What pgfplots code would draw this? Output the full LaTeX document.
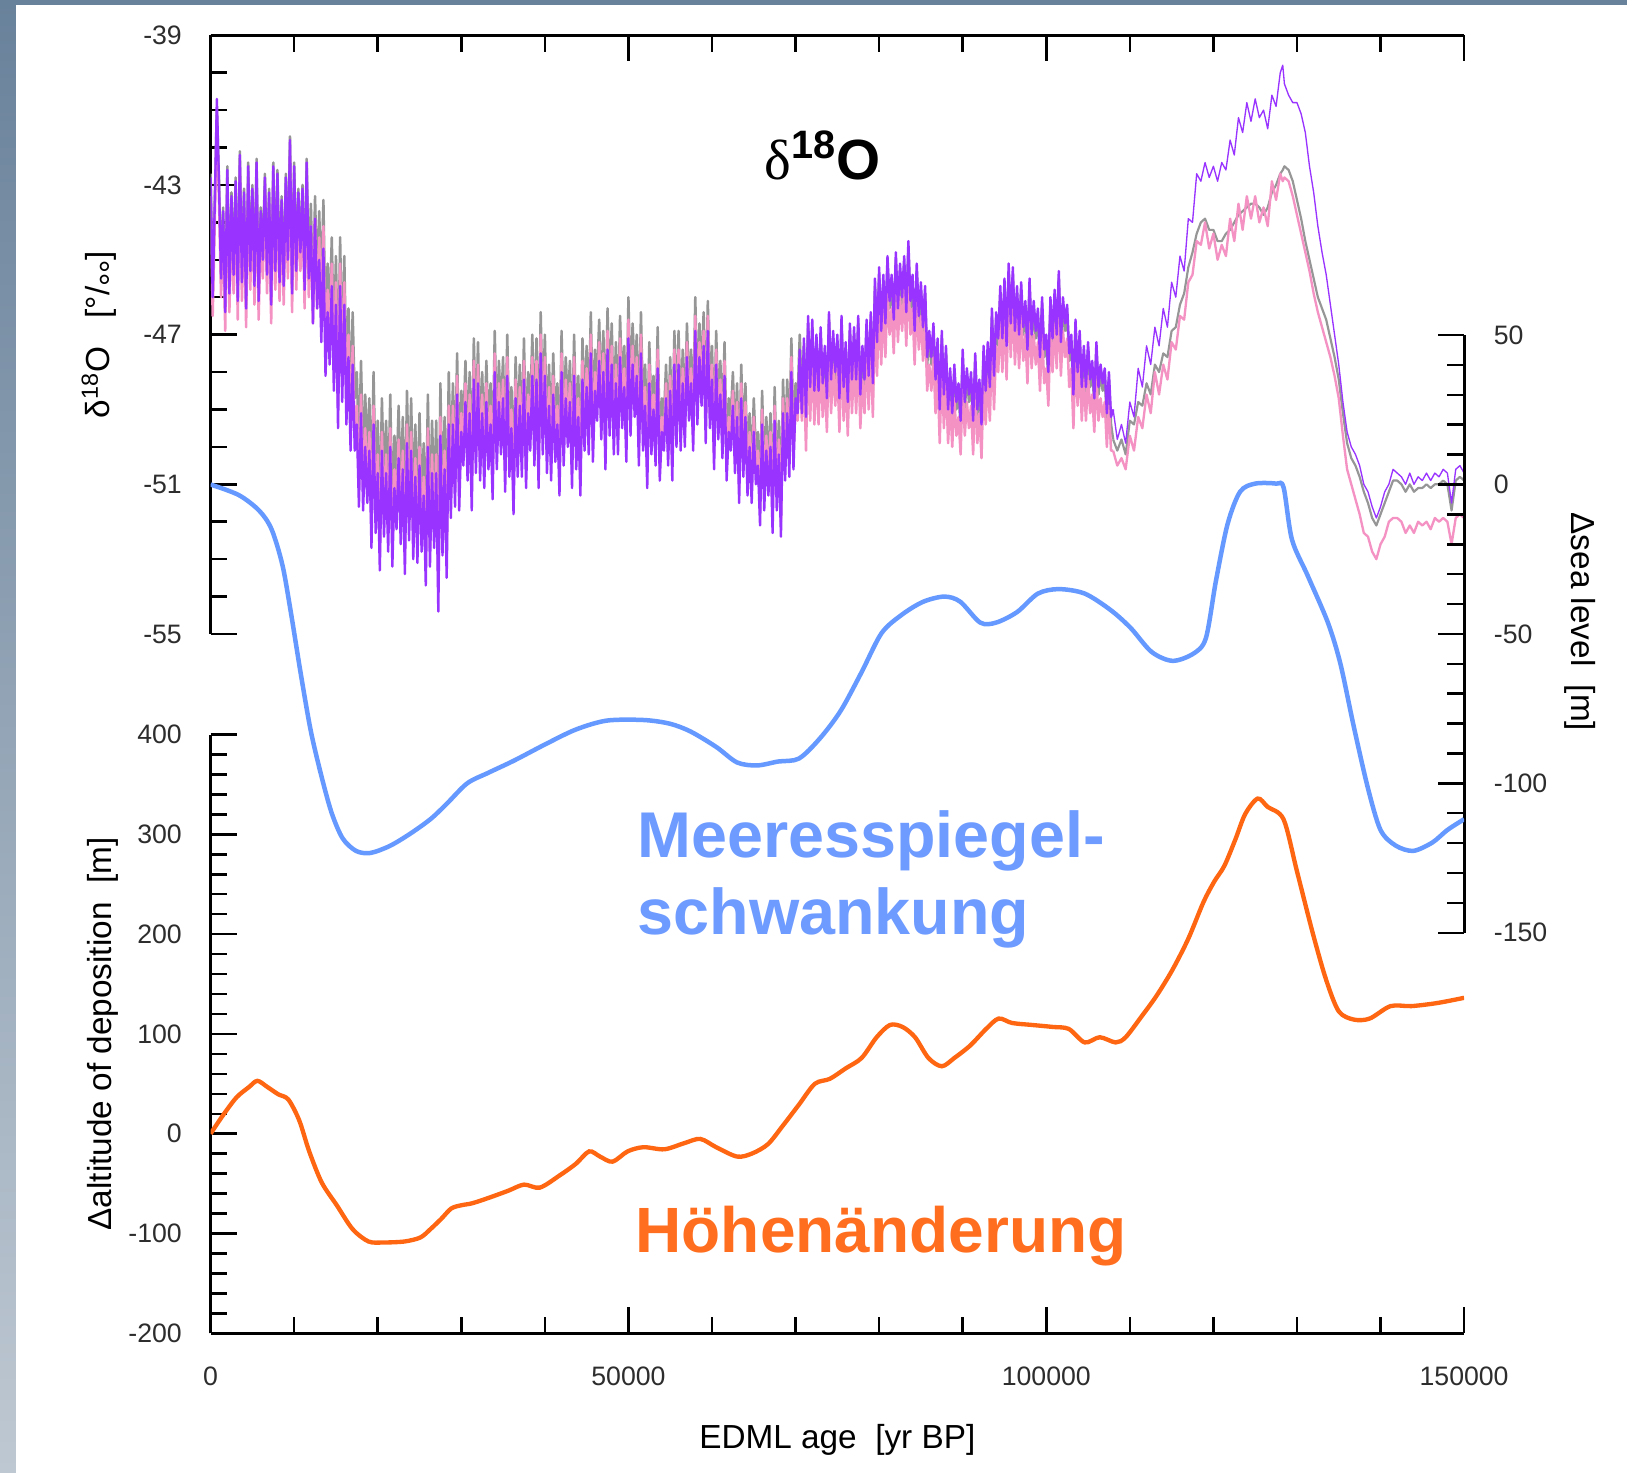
\documentclass[border=0pt]{standalone}
\usepackage{fontspec}
\setmainfont{Liberation Sans}
\newfontfamily\seriffont{Liberation Serif}
\usepackage{pgfplots}
\pgfplotsset{compat=1.18}
\usepackage{pgfplotstable}
\definecolor{cpu}{RGB}{153,51,255}
\definecolor{cgr}{RGB}{150,150,150}
\definecolor{cpk}{RGB}{244,146,196}
\definecolor{cbl}{RGB}{102,153,255}
\definecolor{cor}{RGB}{255,102,17}
\definecolor{blLab}{RGB}{110,155,255}
\definecolor{orLab}{RGB}{255,110,30}
\definecolor{ctick}{RGB}{45,45,45}
\definecolor{bgTop}{RGB}{105,130,155}
\definecolor{bgBot}{RGB}{190,200,210}

\pgfplotstableread{
t pu gr pk
0 -42.8 -42.7 -43.3
250 -46.0 -45.9 -46.5
500 -43.5 -43.4 -44.0
750 -40.7 -41.0 -41.3
1000 -42.9 -42.8 -43.4
1250 -45.5 -45.4 -46.0
1500 -43.7 -43.6 -44.2
1750 -46.4 -46.3 -46.9
2000 -42.6 -42.5 -43.1
2250 -45.9 -45.8 -46.4
2500 -43.3 -43.2 -43.8
2750 -45.4 -45.3 -45.9
3000 -42.9 -42.8 -43.4
3250 -46.1 -46.0 -46.6
3500 -42.2 -42.1 -42.7
3750 -45.6 -45.5 -46.1
4000 -43.2 -43.1 -43.7
4250 -46.3 -46.2 -46.8
4500 -42.5 -42.4 -43.0
4750 -45.3 -45.2 -45.8
5000 -43.1 -43.0 -43.6
5250 -45.7 -45.6 -46.2
5500 -42.4 -42.3 -42.9
5750 -46.1 -46.0 -46.6
6000 -43.7 -43.6 -44.2
6250 -45.0 -44.9 -45.5
6500 -42.8 -42.7 -43.3
6750 -45.4 -45.3 -45.9
7000 -43.2 -43.1 -43.7
7250 -46.2 -46.1 -46.7
7500 -42.5 -42.4 -43.0
7750 -45.3 -45.2 -45.8
8000 -42.7 -42.6 -43.2
8250 -45.6 -45.5 -46.1
8500 -43.4 -43.3 -43.9
8750 -45.7 -45.6 -46.2
9000 -42.8 -42.7 -43.3
9250 -45.0 -44.9 -45.5
9500 -41.8 -41.7 -42.3
9750 -45.9 -45.8 -46.4
10000 -42.5 -42.4 -43.0
10250 -45.3 -45.2 -45.8
10500 -43.2 -43.1 -43.7
10750 -44.8 -44.7 -45.3
11000 -43.1 -43.0 -43.6
11250 -45.8 -45.7 -46.3
11500 -42.4 -42.3 -42.9
11750 -45.5 -45.4 -46.0
12000 -44.1 -43.5 -44.1
12250 -46.7 -46.1 -46.7
12500 -43.9 -43.3 -43.9
12750 -46.3 -45.7 -46.3
13000 -45.0 -43.7 -44.4
13250 -47.2 -45.9 -46.6
13500 -44.7 -43.4 -44.1
13750 -48.1 -46.8 -47.5
14000 -46.4 -45.1 -45.8
14250 -47.8 -46.5 -47.2
14500 -45.7 -44.4 -45.1
14750 -48.5 -47.2 -47.9
15000 -46.2 -44.9 -45.6
15250 -49.5 -48.2 -48.9
15500 -45.7 -44.4 -45.1
15750 -48.8 -47.5 -48.2
16000 -46.2 -44.9 -45.6
16250 -49.4 -48.1 -48.8
16500 -47.6 -46.3 -47.0
16750 -50.1 -48.8 -49.5
17000 -47.8 -46.4 -47.3
17250 -50.1 -48.7 -49.6
17500 -49.4 -48.0 -48.9
17750 -51.6 -50.2 -51.1
18000 -49.1 -47.7 -48.6
18250 -51.7 -50.3 -51.2
18500 -50.0 -48.6 -49.5
18750 -51.5 -50.1 -51.0
19000 -50.1 -48.7 -49.6
19250 -52.7 -51.3 -52.2
19500 -49.4 -48.0 -48.9
19750 -52.3 -50.9 -51.8
20000 -50.7 -49.3 -50.2
20250 -53.3 -51.9 -52.8
20500 -50.1 -48.7 -49.6
20750 -52.4 -51.0 -51.9
21000 -50.7 -49.3 -50.2
21250 -52.8 -51.4 -52.3
21500 -50.0 -48.6 -49.5
21750 -53.2 -51.8 -52.7
22000 -51.1 -49.7 -50.6
22250 -52.2 -50.8 -51.7
22500 -50.3 -48.9 -49.8
22750 -52.6 -51.2 -52.1
23000 -50.6 -49.2 -50.1
23250 -53.4 -52.0 -52.9
23500 -49.9 -48.5 -49.4
23750 -52.5 -51.1 -52.0
24000 -50.1 -48.7 -49.6
24250 -53.0 -51.6 -52.5
24500 -50.8 -49.4 -50.3
24750 -53.1 -51.7 -52.6
25000 -50.5 -49.1 -50.0
25250 -52.8 -51.4 -52.3
25500 -51.3 -49.9 -50.8
25750 -53.7 -52.3 -53.2
26000 -50.0 -48.6 -49.5
26250 -53.2 -51.8 -52.7
26500 -50.7 -49.3 -50.2
26750 -52.7 -51.3 -52.2
27000 -50.7 -49.3 -50.2
27250 -54.4 -53.0 -53.9
27500 -49.7 -48.3 -49.2
27750 -52.9 -51.5 -52.4
28000 -50.6 -49.2 -50.1
28250 -53.5 -52.1 -53.0
28500 -49.4 -48.0 -48.9
28750 -51.9 -50.5 -51.4
29000 -49.4 -48.3 -48.9
29250 -51.6 -50.5 -51.1
29500 -48.6 -47.5 -48.1
29750 -51.7 -50.6 -51.2
30000 -49.6 -48.5 -49.1
30250 -50.5 -49.4 -50.0
30500 -48.8 -47.7 -48.3
30750 -50.9 -49.8 -50.4
31000 -49.1 -48.0 -48.6
31250 -51.7 -50.6 -51.2
31500 -48.2 -47.1 -47.7
31750 -50.7 -49.6 -50.2
32000 -48.3 -47.2 -47.8
32250 -50.9 -49.8 -50.4
32500 -49.1 -48.0 -48.6
32750 -51.1 -50.0 -50.6
33000 -48.8 -47.7 -48.3
33250 -50.6 -49.5 -50.1
33500 -49.4 -48.3 -48.9
33750 -51.4 -50.3 -50.9
34000 -48.0 -46.9 -47.5
34250 -50.6 -49.5 -50.1
34500 -48.8 -47.7 -48.3
34750 -50.2 -49.1 -49.7
35000 -48.7 -47.6 -48.2
35250 -51.2 -50.1 -50.7
35500 -48.1 -47.0 -47.6
35750 -50.8 -49.7 -50.3
36000 -49.5 -48.4 -49.0
36250 -51.8 -50.7 -51.3
36500 -48.7 -47.6 -48.2
36750 -50.8 -49.7 -50.3
37000 -48.9 -47.8 -48.4
37250 -50.8 -49.7 -50.3
37500 -48.2 -47.1 -47.7
37750 -51.1 -50.0 -50.6
38000 -49.1 -48.0 -48.6
38250 -50.1 -49.0 -49.6
38500 -48.1 -47.0 -47.6
38750 -50.5 -49.4 -50.0
39000 -48.2 -47.1 -47.7
39250 -51.1 -50.0 -50.6
39500 -47.5 -46.4 -47.0
39750 -50.2 -49.1 -49.7
40000 -48.1 -47.0 -47.6
40250 -50.7 -49.6 -50.2
40500 -48.9 -47.8 -48.4
40750 -50.9 -49.8 -50.4
41000 -48.6 -47.5 -48.1
41250 -50.4 -49.3 -49.9
41500 -49.4 -48.3 -48.9
41750 -51.3 -50.2 -50.8
42000 -48.0 -46.9 -47.5
42250 -50.5 -49.4 -50.0
42500 -48.7 -47.6 -48.2
42750 -50.0 -48.9 -49.5
43000 -48.8 -47.7 -48.3
43250 -51.1 -50.0 -50.6
43500 -48.1 -47.0 -47.6
43750 -50.6 -49.5 -50.1
44000 -49.2 -48.1 -48.7
44250 -51.3 -50.2 -50.8
44500 -48.2 -47.1 -47.7
44750 -50.1 -49.0 -49.6
45000 -48.4 -47.3 -47.9
45250 -50.2 -49.1 -49.7
45500 -47.5 -46.4 -47.0
45750 -50.4 -49.3 -49.9
46000 -48.5 -47.4 -48.0
46250 -49.3 -48.2 -48.8
46500 -47.7 -46.6 -47.2
46750 -49.8 -48.7 -49.3
47000 -48.0 -46.9 -47.5
47250 -50.6 -49.5 -50.1
47500 -47.4 -46.3 -46.9
47750 -49.7 -48.6 -49.2
48000 -47.8 -46.7 -47.3
48250 -50.2 -49.1 -49.7
48500 -48.3 -47.2 -47.8
48750 -50.2 -49.1 -49.7
49000 -47.6 -46.5 -47.1
49250 -49.5 -48.4 -49.0
49500 -48.4 -47.3 -47.9
49750 -50.4 -49.3 -49.9
50000 -47.1 -46.0 -46.6
50250 -49.7 -48.6 -49.2
50500 -47.8 -46.7 -47.3
50750 -49.2 -48.1 -48.7
51000 -48.1 -47.0 -47.6
51250 -50.5 -49.4 -50.0
51500 -47.5 -46.4 -47.0
51750 -50.1 -49.0 -49.6
52000 -48.9 -47.8 -48.4
52250 -51.1 -50.0 -50.6
52500 -48.3 -47.2 -47.8
52750 -50.2 -49.1 -49.7
53000 -49.0 -48.1 -48.6
53250 -50.5 -49.6 -50.1
53500 -47.9 -46.8 -47.4
53750 -50.9 -50.0 -50.5
54000 -49.6 -48.7 -49.2
54250 -50.1 -49.2 -49.7
54500 -48.7 -47.8 -48.3
54750 -50.5 -49.6 -50.1
55000 -48.5 -47.6 -48.1
55250 -50.9 -50.0 -50.5
55500 -47.8 -46.9 -47.4
55750 -50.0 -49.1 -49.6
56000 -47.8 -46.9 -47.4
56250 -50.1 -49.2 -49.7
56500 -48.3 -47.4 -47.9
56750 -50.0 -49.1 -49.6
57000 -47.6 -46.7 -47.2
57250 -49.3 -48.4 -48.9
57500 -48.3 -47.4 -47.9
57750 -50.1 -49.2 -49.7
58000 -46.9 -46.0 -46.5
58250 -49.4 -48.5 -49.0
58500 -47.6 -46.7 -47.2
58750 -48.9 -48.0 -48.5
59000 -47.3 -46.4 -46.9
59250 -49.9 -49.0 -49.5
59500 -46.9 -46.1 -46.5
59750 -49.5 -48.6 -49.1
60000 -48.2 -47.3 -47.8
60250 -50.6 -49.7 -50.2
60500 -47.8 -46.9 -47.4
60750 -49.8 -48.9 -49.4
61000 -48.6 -47.7 -48.2
61250 -50.3 -49.4 -49.9
61500 -48.1 -47.2 -47.7
61750 -50.9 -50.0 -50.5
62000 -49.6 -48.7 -49.2
62250 -50.1 -49.2 -49.7
62500 -48.9 -48.0 -48.5
62750 -50.7 -49.8 -50.3
63000 -49.2 -48.3 -48.8
63250 -51.5 -50.6 -51.1
63500 -48.7 -47.8 -48.3
63750 -50.8 -49.9 -50.4
64000 -49.2 -48.3 -48.8
64250 -51.3 -50.4 -50.9
64500 -50.0 -49.1 -49.6
64750 -51.5 -50.6 -51.1
65000 -49.6 -48.7 -49.2
65250 -51.0 -50.1 -50.6
65500 -50.5 -49.6 -50.1
65750 -52.1 -51.2 -51.7
66000 -49.4 -48.5 -49.0
66250 -51.7 -50.8 -51.3
66500 -50.1 -49.2 -49.7
66750 -51.3 -50.4 -50.9
67000 -50.0 -49.1 -49.6
67250 -52.3 -51.4 -51.9
67500 -49.3 -48.4 -48.9
67750 -51.7 -50.8 -51.3
68000 -50.2 -49.3 -49.8
68250 -52.4 -51.5 -52.0
68500 -49.1 -48.2 -48.7
68750 -50.9 -50.0 -50.5
69000 -49.1 -48.2 -48.7
69250 -50.8 -49.9 -50.4
69500 -48.0 -47.1 -47.6
69750 -50.6 -49.7 -50.2
70000 -48.7 -48.3 -48.9
70250 -49.1 -48.7 -49.3
70500 -47.4 -47.0 -47.6
70750 -49.1 -48.7 -49.3
71000 -47.1 -47.3 -48.0
71250 -49.2 -49.4 -50.1
71500 -46.5 -46.7 -47.4
71750 -48.4 -48.6 -49.3
72000 -46.6 -46.8 -47.5
72250 -48.5 -48.7 -49.4
72500 -47.0 -47.2 -47.9
72750 -48.5 -48.7 -49.4
73000 -46.8 -47.0 -47.7
73250 -48.3 -48.5 -49.2
73500 -47.3 -47.5 -48.2
73750 -48.7 -48.9 -49.6
74000 -46.4 -46.6 -47.3
74250 -48.2 -48.4 -49.1
74500 -46.9 -47.1 -47.8
74750 -48.0 -48.2 -48.9
75000 -47.0 -47.2 -47.9
75250 -48.7 -48.9 -49.6
75500 -46.5 -46.7 -47.4
75750 -48.4 -48.6 -49.3
76000 -47.2 -47.4 -48.1
76250 -48.8 -49.0 -49.7
76500 -46.7 -46.9 -47.6
76750 -48.2 -48.4 -49.1
77000 -46.8 -47.0 -47.7
77250 -48.2 -48.4 -49.1
77500 -46.5 -46.7 -47.4
77750 -48.6 -48.8 -49.5
78000 -47.3 -47.5 -48.2
78250 -48.2 -48.4 -49.1
78500 -46.6 -46.8 -47.5
78750 -48.1 -48.3 -49.0
79000 -46.4 -46.6 -47.3
79250 -48.3 -48.5 -49.2
79500 -45.5 -45.7 -46.4
79750 -47.2 -47.4 -48.1
80000 -45.2 -45.4 -46.1
80250 -46.9 -47.1 -47.8
80500 -45.4 -45.6 -46.3
80750 -46.7 -46.9 -47.6
81000 -44.9 -45.1 -45.8
81250 -46.1 -46.3 -47.0
81500 -45.4 -45.6 -46.3
81750 -46.6 -46.8 -47.5
82000 -44.8 -45.0 -45.7
82250 -46.3 -46.5 -47.2
82500 -45.1 -45.3 -46.0
82750 -46.0 -46.2 -46.9
83000 -44.9 -45.1 -45.8
83250 -46.4 -46.6 -47.3
83500 -44.5 -44.7 -45.4
83750 -46.1 -46.3 -47.0
84000 -45.4 -45.6 -46.3
84250 -46.9 -47.1 -47.8
84500 -45.1 -45.3 -46.0
84750 -46.5 -46.7 -47.4
85000 -45.6 -45.8 -46.5
85250 -46.8 -47.0 -47.7
85500 -45.7 -45.9 -46.6
85750 -47.6 -47.8 -48.5
86000 -46.9 -47.1 -47.8
86250 -47.6 -47.8 -48.5
86500 -46.7 -46.9 -47.6
86750 -48.2 -48.4 -49.1
87000 -47.1 -47.3 -48.0
87250 -49.0 -49.2 -49.9
87500 -46.9 -47.1 -47.8
87750 -48.6 -48.8 -49.5
88000 -47.3 -47.5 -48.2
88250 -49.0 -49.2 -49.9
88500 -47.9 -48.1 -48.8
88750 -49.1 -49.3 -50.0
89000 -47.8 -48.0 -48.7
89250 -48.8 -49.0 -49.7
89500 -48.3 -48.5 -49.2
89750 -49.3 -49.5 -50.2
90000 -47.4 -47.6 -48.3
90250 -48.8 -49.0 -49.7
90500 -47.9 -48.1 -48.8
90750 -48.6 -48.8 -49.5
91000 -48.0 -48.2 -48.9
91250 -49.3 -49.5 -50.2
91500 -47.5 -47.7 -48.4
91750 -49.0 -49.2 -49.9
92000 -48.2 -48.4 -49.1
92250 -49.4 -49.6 -50.3
92500 -47.3 -47.5 -48.2
92750 -48.5 -48.7 -49.4
93000 -47.2 -47.4 -48.1
93250 -48.4 -48.6 -49.3
93500 -46.3 -46.5 -47.2
93750 -48.1 -48.3 -49.0
94000 -46.4 -46.6 -47.3
94250 -47.1 -47.3 -48.0
94500 -45.7 -45.9 -46.6
94750 -47.1 -47.3 -48.0
95000 -45.5 -45.7 -46.4
95250 -47.3 -47.5 -48.2
95500 -45.1 -45.3 -46.0
95750 -46.7 -46.9 -47.6
96000 -45.2 -45.4 -46.1
96250 -46.9 -47.1 -47.8
96500 -45.7 -45.9 -46.6
96750 -47.0 -47.2 -47.9
97000 -45.6 -45.8 -46.5
97250 -46.8 -47.0 -47.7
97500 -46.1 -46.3 -47.0
97750 -47.4 -47.6 -48.3
98000 -45.5 -45.7 -46.4
98250 -47.0 -47.2 -47.9
98500 -46.1 -46.3 -47.0
98750 -46.9 -47.1 -47.8
99000 -46.3 -46.5 -47.2
99250 -47.6 -47.8 -48.5
99500 -46.0 -46.2 -46.9
99750 -47.4 -47.6 -48.3
100000 -47.0 -47.2 -47.9
100250 -48.0 -48.2 -48.9
100500 -46.0 -46.2 -46.9
100750 -47.1 -47.3 -48.0
101000 -45.8 -46.0 -46.7
101250 -47.0 -47.2 -47.9
101500 -45.3 -45.5 -46.2
101750 -47.2 -47.4 -48.1
102000 -46.0 -46.2 -46.9
102250 -46.7 -46.9 -47.6
102500 -46.2 -46.4 -47.1
102750 -47.5 -47.7 -48.4
103000 -47.0 -47.2 -47.9
103250 -48.6 -48.8 -49.5
103500 -46.6 -46.8 -47.5
103750 -48.0 -48.2 -48.9
104000 -46.9 -47.1 -47.8
104250 -48.4 -48.6 -49.3
104500 -47.3 -47.5 -48.2
104750 -48.4 -48.6 -49.3
105000 -47.2 -47.4 -48.1
105250 -48.2 -48.4 -49.1
105500 -47.7 -47.9 -48.6
105750 -48.7 -48.9 -49.6
106000 -47.2 -47.4 -48.1
106250 -48.4 -48.6 -49.3
106500 -47.8 -48.0 -48.7
106750 -48.3 -48.5 -49.2
107000 -47.9 -48.1 -48.8
107250 -49.1 -49.3 -50.0
107500 -48.0 -48.2 -48.9
107750 -49.2 -49.4 -50.1
108000 -49.0 -49.8 -50.1
108500 -49.8 -50.1 -50.5
109000 -49.4 -49.8 -50.3
109500 -49.9 -50.2 -50.6
110000 -48.8 -49.3 -49.7
110500 -49.2 -49.4 -50.1
111000 -47.9 -48.8 -49.2
111500 -48.4 -48.9 -49.5
112000 -47.3 -48.3 -48.6
112500 -47.8 -48.6 -49.1
113000 -46.8 -47.8 -48.0
113500 -47.3 -48.0 -48.6
114000 -46.3 -47.5 -47.8
114500 -46.8 -47.6 -48.2
115000 -45.6 -46.9 -47.2
115500 -46.0 -46.8 -47.4
116000 -44.9 -46.2 -46.5
116500 -45.3 -45.9 -46.6
117000 -43.9 -45.2 -45.6
117500 -44.0 -44.8 -45.4
118000 -42.7 -44.3 -44.5
118500 -42.9 -44.0 -44.6
119000 -42.4 -43.9 -44.0
119500 -42.8 -44.2 -44.7
120000 -42.5 -44.2 -44.3
120500 -42.9 -44.5 -45.0
121000 -42.4 -44.5 -44.6
121500 -42.6 -44.3 -44.9
122000 -41.8 -44.2 -43.9
122500 -42.2 -44.0 -44.5
123000 -41.2 -43.8 -43.5
123500 -41.6 -43.7 -44.2
124000 -40.8 -43.6 -43.3
124500 -41.3 -43.5 -43.9
125000 -40.7 -43.5 -43.3
125500 -41.2 -43.6 -44.0
126000 -41.0 -43.8 -43.6
126500 -41.5 -43.6 -44.1
127000 -40.6 -43.2 -42.9
127500 -40.9 -43.0 -43.4
128000 -40.0 -42.7 -42.7
128300 -39.8 -42.6 -42.9
128500 -40.3 -42.5 -42.8
129000 -40.6 -42.6 -42.9
129500 -40.8 -42.9 -43.3
130000 -40.8 -43.4 -43.8
130500 -41.1 -43.9 -44.3
131000 -41.6 -44.5 -44.8
131500 -42.5 -45.0 -45.3
132000 -43.2 -45.5 -45.9
132500 -44.1 -46.0 -46.4
133000 -44.8 -46.3 -46.8
133500 -45.4 -46.6 -47.2
134000 -46.2 -47.1 -47.6
134500 -47.0 -47.6 -48.1
135000 -47.8 -48.2 -48.7
135500 -48.8 -49.1 -49.7
136000 -49.6 -49.9 -50.6
136500 -50.0 -50.3 -51.0
137000 -50.2 -50.5 -51.4
137500 -50.5 -50.8 -51.8
138000 -51.0 -51.2 -52.3
138500 -51.2 -51.5 -52.4
139000 -51.6 -51.9 -52.8
139500 -51.9 -52.1 -53.0
140000 -51.6 -51.8 -52.6
140500 -51.2 -51.5 -52.4
141000 -51.0 -51.2 -52.0
141500 -50.6 -50.9 -51.9
142000 -50.7 -50.9 -51.9
142500 -50.8 -51.0 -52.0
143000 -51.0 -51.2 -52.3
143500 -50.7 -51.0 -52.1
144000 -51.0 -51.2 -52.3
144500 -50.8 -51.1 -52.0
145000 -50.9 -51.1 -52.1
145500 -50.7 -51.0 -52.0
146000 -50.9 -51.1 -52.2
146500 -50.7 -51.0 -51.9
147000 -50.8 -51.0 -52.0
147500 -50.6 -50.9 -51.9
148000 -50.7 -51.0 -52.0
148500 -51.5 -51.7 -52.6
149000 -50.6 -50.9 -51.9
149500 -50.5 -50.8 -51.8
150000 -50.7 -50.9 -51.9
}\dO

\pgfplotstableread{
t s
0 0
3350 -3.5
5800 -8.7
7300 -15
8600 -27
9600 -42.7
10800 -63.5
12000 -82.6
13300 -98
14500 -110
15800 -118.4
17400 -122.6
19100 -123.3
21400 -121
23800 -117
26300 -112
28200 -107
30700 -100
33200 -96.5
36300 -92.4
40000 -87
43700 -82
47400 -79
51800 -78.8
54900 -80
57400 -82.6
60500 -87.8
63000 -93
65400 -94
67900 -92.7
70400 -91.7
72900 -85
75400 -75.7
77900 -62.8
80300 -49.7
82800 -43.4
85300 -39.2
87800 -37.5
89700 -39.2
92100 -46.2
94000 -46.2
96500 -42.7
99000 -36.5
101500 -35
104600 -36.5
107700 -42
110100 -48
112600 -56
115100 -59
117600 -56.6
119100 -51.4
120300 -32.3
121700 -13.2
123200 -2.4
125000 0.3
127500 0.3
128400 -1
129400 -18.4
131300 -30.6
133700 -46.2
135200 -60
136800 -81
138500 -101.7
140000 -115.6
141800 -120.8
143900 -122.6
146200 -119.8
148000 -115.6
150000 -112
}\dSea

\pgfplotstableread{
t a
0 0
1500 18.7
3100 36.4
4600 46.8
5600 53
6800 46.8
8100 39.5
9300 34.3
10600 13.5
11800 -17.7
13300 -48.9
15100 -71.7
17000 -95.7
18900 -108
20700 -109
23200 -108
25100 -104
26300 -95.7
27600 -85.3
28800 -74.9
30000 -71.7
31300 -69.7
33200 -64.5
35600 -57.2
37500 -51
39400 -54
41800 -41.6
43700 -30.2
45300 -17.7
46600 -22.9
48100 -28
49900 -17.7
51800 -13.5
54300 -15.6
56700 -9.4
58600 -5.2
60500 -13.5
63000 -22.9
64800 -19.8
66700 -10.4
68500 8.3
70400 29.1
72300 50
74100 55
76000 65.5
77900 75.9
79700 96.7
81300 109
82800 107
84300 96.7
85900 75.9
87500 67.6
89000 75.9
90900 88.4
92800 105
94300 115.4
95900 111
98300 109
100800 107
102700 105
104600 91.5
106400 96.7
108300 91.5
109500 96.7
111400 117.5
113200 138.3
115100 164.3
117000 195.5
118800 231.9
120100 252.7
121300 268.3
122600 294.3
123800 320.3
125300 335.9
126500 327.5
128400 315
130000 263
131900 200.7
133500 154
135000 122.7
136800 114.4
138700 115.4
141200 127.9
143700 127.9
146800 131
150000 136.2
}\dAlt

\pgfplotsset{
  base/.style={
    scale only axis, width=376.05pt, xmin=0, xmax=150000, anchor=south west,
    tick align=inside, major tick length=7.8pt, minor tick length=5pt,
    every tick/.style={black, line width=0.75pt},
    axis line style={black, line width=0.9pt},
    tick label style={font=\fontsize{8}{9}\selectfont, text=ctick},
    label style={font=\fontsize{10.4}{12}\selectfont, text=black!88},
    no markers, scaled ticks=false,
  },
}

\begin{document}
\begin{tikzpicture}
\shade[top color=bgTop, bottom color=bgBot] (0,0) rectangle (488.1pt,441.9pt);
\fill[white] (4.9pt,0) rectangle (488.1pt,440.4pt);
\path[use as bounding box] (0,0) rectangle (488.1pt,441.9pt);

% frame: top and bottom x axis lines
\begin{axis}[base, at={(63.18pt,41.91pt)}, height=389.4pt, ymin=0, ymax=1,
  axis x line*=box, axis y line=none,
  xtick={0,50000,100000,150000}, xticklabels={0,50000,100000,150000},
  minor x tick num=4,
  xticklabel style={yshift=-6.6pt},
  xlabel={EDML age\ \ [yr BP]},
  every axis x label/.style={at={(axis description cs:0.5,0)}, anchor=center, yshift=-32pt},
]
\end{axis}

% delta 18O axis
\begin{axis}[base, at={(63.18pt,251.7pt)}, height=179.61pt, ymin=-55, ymax=-39,
  axis x line=none, axis y line*=left,
  ytick={-55,-51,-47,-43,-39}, yticklabels={-55,-51,-47,-43,-39},
  minor y tick num=3,
  yticklabel style={xshift=-5.1pt},
  ylabel={δ\textsuperscript{18}O\ \ \ [°/\raisebox{-0.42em}{°°}]},
  every axis y label/.style={at={(axis description cs:-0.086,0.5)}, anchor=center, rotate=90},
  line join=round,
]
\addplot[cgr, line width=0.75pt, restrict x to domain=0:108000] table[x=t,y=gr]{\dO};
\addplot[cpk, line width=0.75pt, restrict x to domain=0:108000] table[x=t,y=pk]{\dO};
\addplot[cpu, line width=0.72pt, restrict x to domain=0:108000] table[x=t,y=pu]{\dO};
\addplot[cgr, line width=0.65pt, restrict x to domain=108000:150000] table[x=t,y=gr]{\dO};
\addplot[cpk, line width=0.7pt, restrict x to domain=108000:150000] table[x=t,y=pk]{\dO};
\addplot[cpu, line width=0.4pt, restrict x to domain=108000:150000] table[x=t,y=pu]{\dO};
\end{axis}

% sea level axis (right)
\begin{axis}[base, at={(63.18pt,162.06pt)}, height=179.31pt, ymin=-150, ymax=50,
  axis x line=none, axis y line*=right,
  ytick={-150,-100,-50,0,50}, yticklabels={-150,-100,-50,0,50},
  minor y tick num=4,
  yticklabel style={xshift=5.4pt},
  ylabel={Δsea level\ \ [m]},
  every axis y label/.style={at={(axis description cs:1.0925,0.52)}, anchor=center, rotate=-90},
]
\addplot[cbl, line width=1.35pt, smooth, tension=0.5] table[x=t,y=s]{\dSea};
\end{axis}

% altitude axis (lower left)
\begin{axis}[base, at={(63.18pt,41.91pt)}, height=179.61pt, ymin=-200, ymax=400,
  axis x line=none, axis y line*=left,
  ytick={-200,-100,0,100,200,300,400}, yticklabels={-200,-100,0,100,200,300,400},
  minor y tick num=4,
  yticklabel style={xshift=-5.1pt},
  ylabel={Δaltitude of deposition\ \ [m]},
  every axis y label/.style={at={(axis description cs:-0.086,0.5)}, anchor=center, rotate=90},
]
\addplot[cor, line width=1.3pt, smooth, tension=0.5] table[x=t,y=a]{\dAlt};
\end{axis}

\node[font=\fontsize{17}{20}\selectfont] at (246.8pt,395.2pt)
  {{\seriffont δ}\textsuperscript{\bfseries 18}\textbf{O}};
\node[anchor=base west, font={\fontsize{19.4}{23}\selectfont\bfseries}, text=blLab, inner sep=0pt]
  at (191.1pt,184.5pt) {Meeresspiegel-};
\node[anchor=base west, font={\fontsize{19.4}{23}\selectfont\bfseries}, text=blLab, inner sep=0pt]
  at (191.1pt,161.4pt) {schwankung};
\node[anchor=base west, font={\fontsize{19.2}{23}\selectfont\bfseries}, text=orLab, inner sep=0pt]
  at (190.5pt,66.2pt) {Höhenänderung};
\end{tikzpicture}
\end{document}
